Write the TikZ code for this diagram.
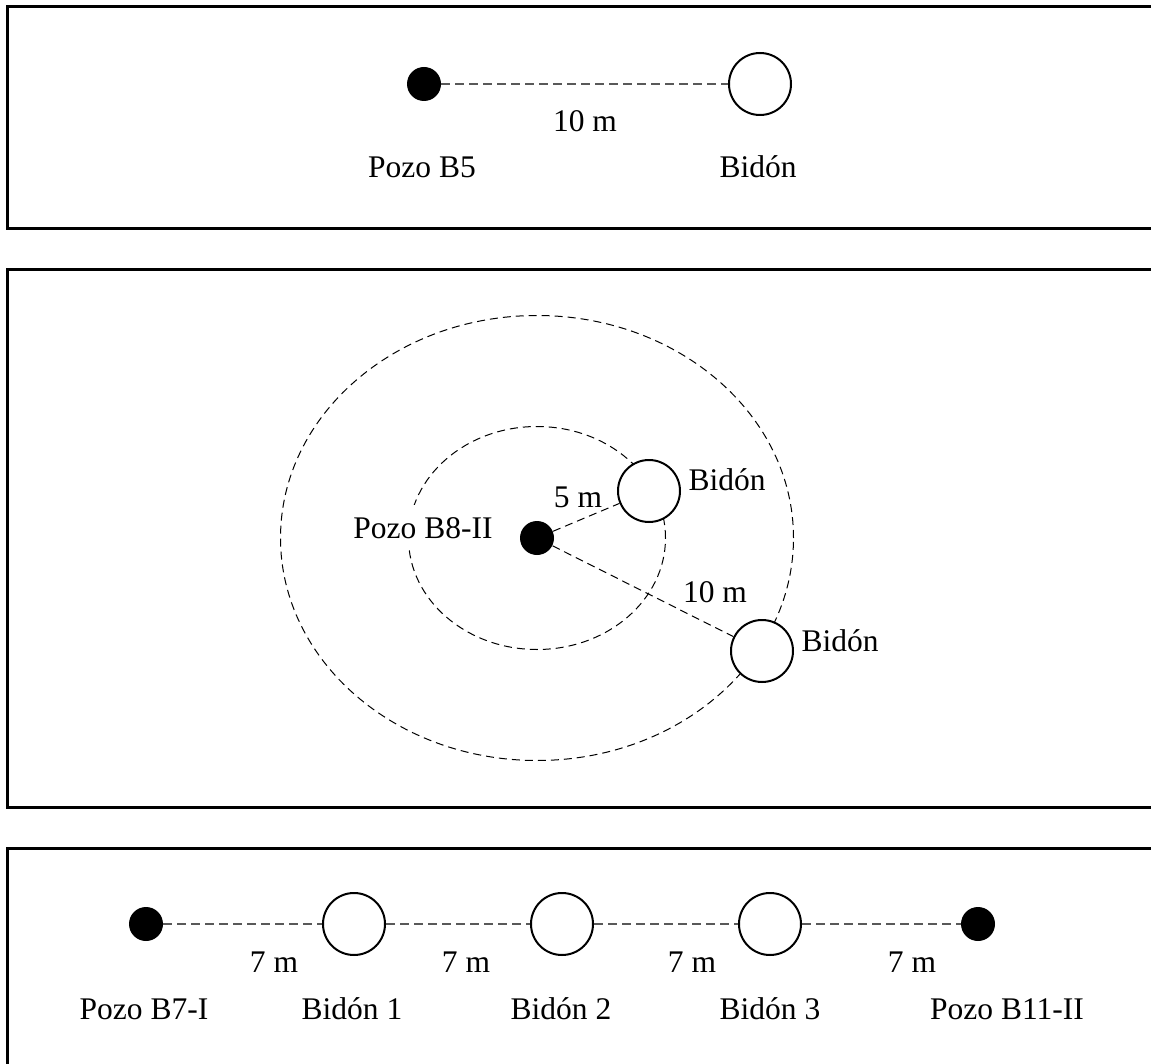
\documentclass[tikz,border=0pt]{standalone}
\usepackage{fontspec}
\setmainfont{Liberation Serif}
\definecolor{gristubo}{gray}{0.35}
\begin{document}
\begin{tikzpicture}[x=0.5pt,y=-0.5pt,
  pozo/.style={circle,fill=black,inner sep=0pt,minimum size=17pt},
  bidon/.style={circle,draw,fill=white,line width=1pt,inner sep=0pt,minimum size=31pt},
  tubo/.style={draw=gristubo,line width=0.6pt,dash pattern=on 4.5pt off 2.5pt},
  radio/.style={draw=black,line width=0.5pt,dash pattern=on 4pt off 2.5pt},
  rotulo/.style={anchor=base,inner sep=0pt,font=\fontsize{15.75}{18}\selectfont},
  marco/.style={line width=1.5pt}]
\useasboundingbox (0,0) rectangle (1151,1064);
% marcos
\draw[marco] (7.5,7) rectangle (1175,229);
\draw[marco] (7.5,270) rectangle (1175,807);
\draw[marco] (7.5,848) rectangle (1175,1090);
% panel 1
\node[pozo] (b5) at (424,84) {};
\node[bidon] (bid) at (760,84) {};
\draw[tubo] (b5) -- (bid);
\node[rotulo] (d1) at (585,132) {10 m};
\node[rotulo] (lb5) at (422,178) {Pozo B5};
\node[rotulo] (lbid) at (758,178) {Bidón};
% panel 2
\coordinate (c) at (537,538);
\draw[radio] (c) ellipse [x radius=128.25pt, y radius=111.25pt];
\draw[radio] (c) ellipse [x radius=64.25pt, y radius=55.75pt];
\node[pozo] (b8) at (c) {};
\node[bidon] (bida) at (649,491) {};
\node[bidon] (bidb) at (762,651) {};
\draw[radio] (b8) -- (bida);
\draw[radio] (b8) -- (bidb);
\node[rotulo,fill=white,inner ysep=6pt,inner xsep=1pt] (lb8) at (423,538) {Pozo B8-II};
\node[rotulo] (lbida) at (727,490) {Bidón};
\node[rotulo] (lbidb) at (840,651) {Bidón};
\node[rotulo] (d5) at (578,507) {5 m};
\node[rotulo] (d10) at (715,602) {10 m};
% panel 3
\node[pozo] (b7) at (146,924) {};
\node[bidon] (bid1) at (354,924) {};
\node[bidon] (bid2) at (562,924) {};
\node[bidon] (bid3) at (770,924) {};
\node[pozo] (b11) at (978,924) {};
\draw[tubo] (b7) -- (bid1);
\draw[tubo] (bid1) -- (bid2);
\draw[tubo] (bid2) -- (bid3);
\draw[tubo] (bid3) -- (b11);
\foreach \x/\n in {274/a,466/b,692/c,912/d}
  \node[rotulo] (s\n) at (\x,972) {7 m};
\node[rotulo] (lb7) at (144,1019) {Pozo B7-I};
\node[rotulo] (lbid1) at (352,1019) {Bidón 1};
\node[rotulo] (lbid2) at (561,1019) {Bidón 2};
\node[rotulo] (lbid3) at (770,1019) {Bidón 3};
\node[rotulo] (lb11) at (1007,1019) {Pozo B11-II};
\end{tikzpicture}
\end{document}
